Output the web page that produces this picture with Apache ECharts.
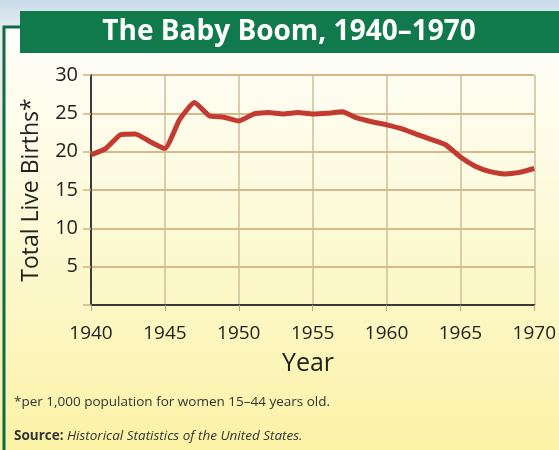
<!DOCTYPE html>
<html>
<head>
<meta charset="utf-8">
<script src="https://cdn.jsdelivr.net/npm/echarts@6/dist/echarts.min.js"></script>
<style>
  html, body { margin: 0; padding: 0; }
  #chart { width: 559px; height: 450px; }
</style>
</head>
<body>
<div id="chart"></div>
<script>
// births per 1,000 women aged 15-44
var years = [1940, 1941, 1942, 1943, 1944, 1945, 1946, 1947, 1948, 1949,
  1950, 1951, 1952, 1953, 1954, 1955, 1956, 1957, 1958, 1959,
  1960, 1961, 1962, 1963, 1964, 1965, 1966, 1967, 1968, 1969, 1970];
var births = [19.6, 20.4, 22.2, 22.3, 21.3, 20.4, 24.2, 26.4, 24.7, 24.5,
  24.0, 24.9, 25.1, 24.9, 25.1, 24.9, 25.0, 25.2, 24.4, 23.9,
  23.5, 23.0, 22.3, 21.6, 20.9, 19.3, 18.1, 17.4, 17.1, 17.3, 17.8];
var yTicks = [5, 10, 15, 20, 25, 30];

var font = '"Open Sans", sans-serif';
var seriesData = years.map(function (y, i) { return [y, births[i]]; });

var chart = echarts.init(document.getElementById('chart'));
chart.setOption({
  animation: false,
  backgroundColor: '#fdfbe8',
  graphic: [
    // page background: blue strip then white-to-yellow panel
    { type: 'rect', z: -10, shape: { x: 0, y: 0, width: 559, height: 450 },
      style: { fill: new echarts.graphic.LinearGradient(0, 0, 0, 1, [
        { offset: 0, color: '#c9dcea' }, { offset: 0.06, color: '#e4ecef' }, { offset: 1, color: '#fbf2a6' }
      ]) } },
    { type: 'rect', z: -9, shape: { x: 4, y: 27, width: 560, height: 430 },
      style: { fill: new echarts.graphic.LinearGradient(0, 0, 0, 1, [
        { offset: 0, color: '#fefefb' }, { offset: 0.35, color: '#fdfbe0' }, { offset: 1, color: '#fbf2a4' }
      ]), stroke: '#0c6b45', lineWidth: 3 } },
    { type: 'rect', z: -8, shape: { x: 20, y: 11, width: 545, height: 42 },
      style: { fill: '#107a4c' } },
    { type: 'text', x: 289, y: 32,
      style: { text: 'The Baby Boom, 1940\u20131970', fill: '#ffffff',
        font: 'bold 28px ' + font, align: 'center', verticalAlign: 'middle' } },
    { type: 'text', x: 308, y: 364,
      style: { text: 'Year', fill: '#222', font: '25px ' + font,
        align: 'center', verticalAlign: 'middle' } },
    { type: 'text', x: 14, y: 402,
      style: { text: '*per 1,000 population for women 15\u201344 years old.', fill: '#333',
        font: '13.5px ' + font, verticalAlign: 'middle' } },
    { type: 'text', x: 14, y: 436,
      style: { text: '{b|Source:} {i|Historical Statistics of the United States.}',
        verticalAlign: 'middle',
        rich: {
          b: { font: 'bold 13.5px ' + font, fill: '#333' },
          i: { font: 'italic 13.5px ' + font, fill: '#333' }
        } } }
  ],
  grid: { left: 91, right: 24, top: 75, bottom: 145 },
  xAxis: {
    type: 'value', min: 1940, max: 1970, interval: 5,
    axisLine: { lineStyle: { color: '#3a3a3a', width: 2 } },
    axisTick: { show: true, length: 6, lineStyle: { color: '#b5a888' } },
    axisLabel: { color: '#222', fontSize: 19, fontFamily: font, margin: 19,
      formatter: function (v) { return String(v); } },
    splitLine: { show: true, lineStyle: { color: '#cdbf9a', width: 1.5 } }
  },
  yAxis: {
    type: 'value', min: 0, max: 30, interval: 5,
    name: 'Total Live Births*', nameLocation: 'middle', nameGap: 48,
    nameTextStyle: { color: '#222', fontSize: 23, fontFamily: font },
    axisLine: { show: true, lineStyle: { color: '#3a3a3a', width: 2 } },
    axisTick: { show: true, length: 8, lineStyle: { color: '#cfb27e', width: 1.5 } },
    axisLabel: { color: '#222', fontSize: 20, fontFamily: font, margin: 13,
      formatter: function (v) { return yTicks.indexOf(v) >= 0 ? String(v) : ''; } },
    splitLine: { show: true, lineStyle: { color: '#d6b98a', width: 2 } }
  },
  series: [{
    type: 'line',
    data: seriesData,
    showSymbol: false,
    smooth: 0.15,
    lineStyle: { color: '#c23a30', width: 5 }
  }]
});
</script>
</body>
</html>
